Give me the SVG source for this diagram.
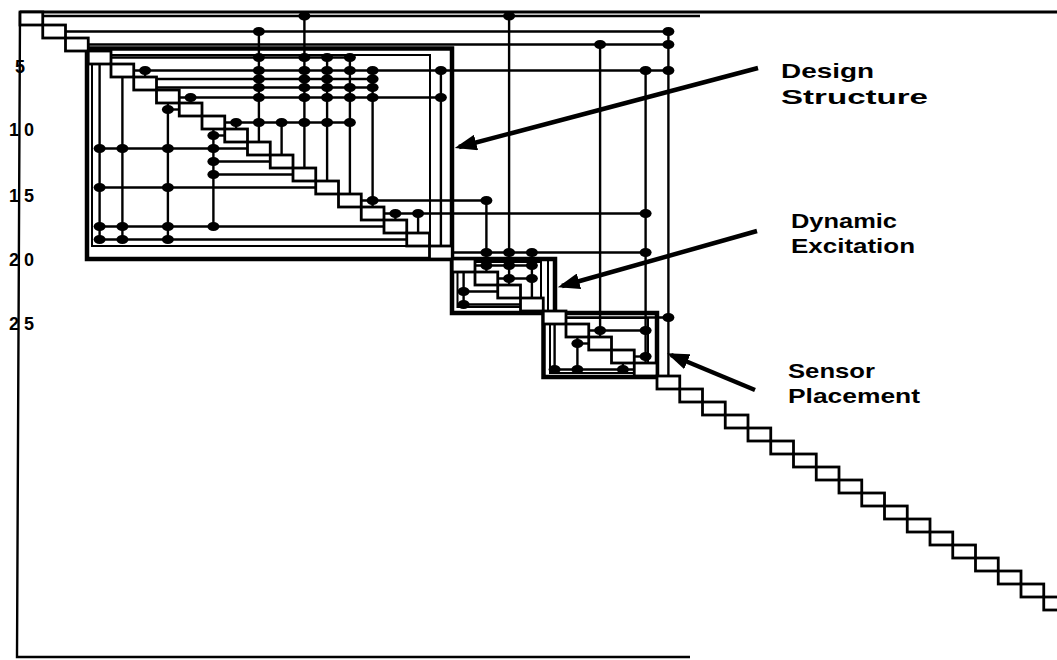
<svg xmlns="http://www.w3.org/2000/svg" xmlns:xlink="http://www.w3.org/1999/xlink" width="1057" height="660" viewBox="0 0 1057 660">
<defs>
<style>
.ln{stroke:#000;stroke-width:2.4;fill:none}
.bx{fill:#fff;stroke:#000;stroke-width:2.8}
.blk{fill:none;stroke:#000;stroke-width:4.5}
.inr{fill:none;stroke:#000;stroke-width:2}
.dot{fill:#000}
.lbl{font-family:"Liberation Sans",Arial,sans-serif;font-weight:bold;font-size:21px;fill:#000}
.ax{font-family:"Liberation Sans",Arial,sans-serif;font-weight:bold;font-size:18px;fill:#000}
.arr{stroke:#000;stroke-width:4.5;fill:none;marker-end:url(#ah)}
</style>
<ellipse id="d" class="dot" cx="0" cy="0" rx="6" ry="4.5"/>
<marker id="ah" viewBox="0 0 10 10" refX="8" refY="5" markerWidth="22" markerHeight="16" markerUnits="userSpaceOnUse" orient="auto" preserveAspectRatio="none"><path d="M0,0 L10,5 L0,10 Z" fill="#000"/></marker>
</defs>
<rect width="1057" height="660" fill="#fff"/>

<g id="axis">
<path class="ln" style="stroke-width:2.4" d="M20,12 L17,657 L690,657"/>
<path class="ln" style="stroke-width:3" d="M20,12 H1057"/>
<text class="ax" x="15" y="73">5</text>
<text class="ax" x="9" y="136" textLength="25" lengthAdjust="spacing">10</text>
<text class="ax" x="9" y="202" textLength="25" lengthAdjust="spacing">15</text>
<text class="ax" x="9" y="266" textLength="25" lengthAdjust="spacing">20</text>
<text class="ax" x="9" y="330" textLength="25" lengthAdjust="spacing">25</text>
</g>

<g id="block-design"><rect class="blk" x="87" y="48.5" width="365" height="210.5"/><rect class="inr" x="92" y="55" width="338" height="191"/></g>
<g id="block-excitation"><rect class="blk" x="452" y="259" width="103" height="54"/><rect class="inr" x="457.5" y="262" width="83.5" height="45"/><path class="inr" d="M548,259 V313"/></g>
<g id="block-sensor"><rect class="blk" x="543.5" y="313" width="113.5" height="64"/><rect class="inr" x="550" y="318" width="98" height="55"/></g>

<g id="connectors">
<g id="row-lines">
<path class="ln" d="M42.75,16 H700"/>
<path class="ln" d="M65.5,31.5 H668.4"/>
<path class="ln" d="M88.25,44.5 H668.4"/>
<path class="ln" d="M111,57.5 H349.9"/>
<path class="ln" d="M133.75,70.5 H668.4"/>
<path class="ln" d="M156.5,79 H372.6"/>
<path class="ln" d="M156.5,87.5 H372.6"/>
<path class="ln" d="M179.25,97.5 H440.9"/>
<path class="ln" d="M224.75,122.5 H349.9"/>
<path class="ln" d="M361.25,200.5 H486.4"/>
<path class="ln" d="M384,213.5 H645.6"/>
<path class="ln" d="M452.25,252.5 H645.6"/>
<path class="ln" d="M475,265.5 H531.9"/>
<path class="ln" d="M497.75,278.5 H531.9"/>
<path class="ln" d="M566,317.5 H668.4"/>
<path class="ln" d="M588.75,330.5 H645.6"/>
<path class="ln" d="M634.25,356.5 H645.6"/>
<path class="ln" d="M179.25,109.5 H167.9"/>
<path class="ln" d="M224.75,135.5 H213.4"/>
<path class="ln" d="M247.5,148.5 H99.6"/>
<path class="ln" d="M270.25,161.5 H213.4"/>
<path class="ln" d="M293,174.5 H213.4"/>
<path class="ln" d="M315.75,187.5 H99.6"/>
<path class="ln" d="M384,226.5 H99.6"/>
<path class="ln" d="M406.75,239.5 H99.6"/>
<path class="ln" d="M497.75,291.5 H463.6"/>
<path class="ln" d="M520.5,304.5 H463.6"/>
<path class="ln" d="M588.75,343.5 H577.4"/>
<path class="ln" d="M634.25,369.5 H554.6"/>
</g>
<g id="col-lines">
<path class="ln" d="M99.6,64 V239.5"/>
<path class="ln" d="M122.4,77 V239.5"/>
<path class="ln" d="M145.1,77 V70.5"/>
<path class="ln" d="M167.9,103 V239.5"/>
<path class="ln" d="M190.6,103 V97.5"/>
<path class="ln" d="M213.4,129 V226.5"/>
<path class="ln" d="M236.1,129 V122.5"/>
<path class="ln" d="M258.9,142 V31.5"/>
<path class="ln" d="M281.6,155 V122.5"/>
<path class="ln" d="M304.4,168 V16"/>
<path class="ln" d="M327.1,181 V57.5"/>
<path class="ln" d="M349.9,194 V57.5"/>
<path class="ln" d="M372.6,207 V70.5"/>
<path class="ln" d="M395.4,220 V213.5"/>
<path class="ln" d="M418.1,233 V213.5"/>
<path class="ln" d="M440.9,246 V70.5"/>
<path class="ln" d="M463.6,272 V304.5"/>
<path class="ln" d="M486.4,272 V200.5"/>
<path class="ln" d="M509.1,285 V16"/>
<path class="ln" d="M531.9,298 V252.5"/>
<path class="ln" d="M554.6,324 V369.5"/>
<path class="ln" d="M577.4,337 V369.5"/>
<path class="ln" d="M600.1,337 V44.5"/>
<path class="ln" d="M622.9,363 V369.5"/>
<path class="ln" d="M645.6,363 V70.5"/>
<path class="ln" d="M668.4,376 V31.5"/>
</g>
<g id="dots">
<use xlink:href="#d" x="304.4" y="16"/><use xlink:href="#d" x="509.1" y="16"/>
<use xlink:href="#d" x="258.9" y="31.5"/><use xlink:href="#d" x="668.4" y="31.5"/>
<use xlink:href="#d" x="600.1" y="44.5"/><use xlink:href="#d" x="668.4" y="44.5"/>
<use xlink:href="#d" x="258.9" y="57.5"/><use xlink:href="#d" x="304.4" y="57.5"/><use xlink:href="#d" x="327.1" y="57.5"/><use xlink:href="#d" x="349.9" y="57.5"/>
<use xlink:href="#d" x="145.1" y="70.5"/><use xlink:href="#d" x="258.9" y="70.5"/><use xlink:href="#d" x="304.4" y="70.5"/><use xlink:href="#d" x="327.1" y="70.5"/><use xlink:href="#d" x="349.9" y="70.5"/><use xlink:href="#d" x="372.6" y="70.5"/><use xlink:href="#d" x="440.9" y="70.5"/><use xlink:href="#d" x="645.6" y="70.5"/><use xlink:href="#d" x="668.4" y="70.5"/>
<use xlink:href="#d" x="258.9" y="79"/><use xlink:href="#d" x="304.4" y="79"/><use xlink:href="#d" x="327.1" y="79"/><use xlink:href="#d" x="372.6" y="79"/>
<use xlink:href="#d" x="258.9" y="87.5"/><use xlink:href="#d" x="304.4" y="87.5"/><use xlink:href="#d" x="327.1" y="87.5"/><use xlink:href="#d" x="349.9" y="87.5"/><use xlink:href="#d" x="372.6" y="87.5"/>
<use xlink:href="#d" x="190.6" y="97.5"/><use xlink:href="#d" x="258.9" y="97.5"/><use xlink:href="#d" x="304.4" y="97.5"/><use xlink:href="#d" x="327.1" y="97.5"/><use xlink:href="#d" x="349.9" y="97.5"/><use xlink:href="#d" x="372.6" y="97.5"/><use xlink:href="#d" x="440.9" y="97.5"/>
<use xlink:href="#d" x="167.9" y="109.5"/>
<use xlink:href="#d" x="236.1" y="122.5"/><use xlink:href="#d" x="258.9" y="122.5"/><use xlink:href="#d" x="281.6" y="122.5"/><use xlink:href="#d" x="304.4" y="122.5"/><use xlink:href="#d" x="327.1" y="122.5"/><use xlink:href="#d" x="349.9" y="122.5"/>
<use xlink:href="#d" x="213.4" y="135.5"/>
<use xlink:href="#d" x="99.6" y="148.5"/><use xlink:href="#d" x="122.4" y="148.5"/><use xlink:href="#d" x="167.9" y="148.5"/><use xlink:href="#d" x="213.4" y="148.5"/>
<use xlink:href="#d" x="213.4" y="161.5"/>
<use xlink:href="#d" x="213.4" y="174.5"/>
<use xlink:href="#d" x="99.6" y="187.5"/><use xlink:href="#d" x="167.9" y="187.5"/>
<use xlink:href="#d" x="372.6" y="200.5"/><use xlink:href="#d" x="486.4" y="200.5"/>
<use xlink:href="#d" x="395.4" y="213.5"/><use xlink:href="#d" x="418.1" y="213.5"/><use xlink:href="#d" x="645.6" y="213.5"/>
<use xlink:href="#d" x="99.6" y="226.5"/><use xlink:href="#d" x="122.4" y="226.5"/><use xlink:href="#d" x="167.9" y="226.5"/><use xlink:href="#d" x="213.4" y="226.5"/>
<use xlink:href="#d" x="99.6" y="239.5"/><use xlink:href="#d" x="122.4" y="239.5"/><use xlink:href="#d" x="167.9" y="239.5"/>
<use xlink:href="#d" x="486.4" y="252.5"/><use xlink:href="#d" x="509.1" y="252.5"/><use xlink:href="#d" x="531.9" y="252.5"/><use xlink:href="#d" x="645.6" y="252.5"/>
<use xlink:href="#d" x="486.4" y="265.5"/><use xlink:href="#d" x="509.1" y="265.5"/><use xlink:href="#d" x="531.9" y="265.5"/>
<use xlink:href="#d" x="509.1" y="278.5"/><use xlink:href="#d" x="531.9" y="278.5"/>
<use xlink:href="#d" x="463.6" y="291.5"/>
<use xlink:href="#d" x="463.6" y="304.5"/>
<use xlink:href="#d" x="668.4" y="317.5"/>
<use xlink:href="#d" x="600.1" y="330.5"/><use xlink:href="#d" x="645.6" y="330.5"/>
<use xlink:href="#d" x="577.4" y="343.5"/>
<use xlink:href="#d" x="645.6" y="356.5"/>
<use xlink:href="#d" x="554.6" y="369.5"/><use xlink:href="#d" x="577.4" y="369.5"/><use xlink:href="#d" x="622.9" y="369.5"/>
</g>
<g id="callouts">
<path class="arr" d="M758,68 L459,147"/>
<path class="arr" d="M757,231 L562,286"/>
<path class="arr" d="M755,390 L671,355"/>
</g>
</g>

<g id="m1"><rect class="bx" x="20" y="12" width="22.75" height="13"/></g>
<g id="m2"><rect class="bx" x="42.75" y="25" width="22.75" height="13"/></g>
<g id="m3"><rect class="bx" x="65.5" y="38" width="22.75" height="13"/></g>
<g id="m4"><rect class="bx" x="88.25" y="51" width="22.75" height="13"/></g>
<g id="m5"><rect class="bx" x="111" y="64" width="22.75" height="13"/></g>
<g id="m6"><rect class="bx" x="133.75" y="77" width="22.75" height="13"/></g>
<g id="m7"><rect class="bx" x="156.5" y="90" width="22.75" height="13"/></g>
<g id="m8"><rect class="bx" x="179.25" y="103" width="22.75" height="13"/></g>
<g id="m9"><rect class="bx" x="202" y="116" width="22.75" height="13"/></g>
<g id="m10"><rect class="bx" x="224.75" y="129" width="22.75" height="13"/></g>
<g id="m11"><rect class="bx" x="247.5" y="142" width="22.75" height="13"/></g>
<g id="m12"><rect class="bx" x="270.25" y="155" width="22.75" height="13"/></g>
<g id="m13"><rect class="bx" x="293" y="168" width="22.75" height="13"/></g>
<g id="m14"><rect class="bx" x="315.75" y="181" width="22.75" height="13"/></g>
<g id="m15"><rect class="bx" x="338.5" y="194" width="22.75" height="13"/></g>
<g id="m16"><rect class="bx" x="361.25" y="207" width="22.75" height="13"/></g>
<g id="m17"><rect class="bx" x="384" y="220" width="22.75" height="13"/></g>
<g id="m18"><rect class="bx" x="406.75" y="233" width="22.75" height="13"/></g>
<g id="m19"><rect class="bx" x="429.5" y="246" width="22.75" height="13"/></g>
<g id="m20"><rect class="bx" x="452.25" y="259" width="22.75" height="13"/></g>
<g id="m21"><rect class="bx" x="475" y="272" width="22.75" height="13"/></g>
<g id="m22"><rect class="bx" x="497.75" y="285" width="22.75" height="13"/></g>
<g id="m23"><rect class="bx" x="520.5" y="298" width="22.75" height="13"/></g>
<g id="m24"><rect class="bx" x="543.25" y="311" width="22.75" height="13"/></g>
<g id="m25"><rect class="bx" x="566" y="324" width="22.75" height="13"/></g>
<g id="m26"><rect class="bx" x="588.75" y="337" width="22.75" height="13"/></g>
<g id="m27"><rect class="bx" x="611.5" y="350" width="22.75" height="13"/></g>
<g id="m28"><rect class="bx" x="634.25" y="363" width="22.75" height="13"/></g>
<g id="m29"><rect class="bx" x="657" y="376" width="22.75" height="13"/></g>
<g id="m30"><rect class="bx" x="679.75" y="389" width="22.75" height="13"/></g>
<g id="m31"><rect class="bx" x="702.5" y="402" width="22.75" height="13"/></g>
<g id="m32"><rect class="bx" x="725.25" y="415" width="22.75" height="13"/></g>
<g id="m33"><rect class="bx" x="748" y="428" width="22.75" height="13"/></g>
<g id="m34"><rect class="bx" x="770.75" y="441" width="22.75" height="13"/></g>
<g id="m35"><rect class="bx" x="793.5" y="454" width="22.75" height="13"/></g>
<g id="m36"><rect class="bx" x="816.25" y="467" width="22.75" height="13"/></g>
<g id="m37"><rect class="bx" x="839" y="480" width="22.75" height="13"/></g>
<g id="m38"><rect class="bx" x="861.75" y="493" width="22.75" height="13"/></g>
<g id="m39"><rect class="bx" x="884.5" y="506" width="22.75" height="13"/></g>
<g id="m40"><rect class="bx" x="907.25" y="519" width="22.75" height="13"/></g>
<g id="m41"><rect class="bx" x="930" y="532" width="22.75" height="13"/></g>
<g id="m42"><rect class="bx" x="952.75" y="545" width="22.75" height="13"/></g>
<g id="m43"><rect class="bx" x="975.5" y="558" width="22.75" height="13"/></g>
<g id="m44"><rect class="bx" x="998.25" y="571" width="22.75" height="13"/></g>
<g id="m45"><rect class="bx" x="1021" y="584" width="22.75" height="13"/></g>
<g id="m46"><rect class="bx" x="1043.75" y="597" width="22.75" height="13"/></g>

<g id="label-design"><text class="lbl" x="781" y="78" textLength="93" lengthAdjust="spacingAndGlyphs">Design</text><text class="lbl" x="781" y="104" textLength="147" lengthAdjust="spacingAndGlyphs">Structure</text></g>
<g id="label-excitation"><text class="lbl" x="791" y="228" textLength="106" lengthAdjust="spacingAndGlyphs">Dynamic</text><text class="lbl" x="791" y="253" textLength="124" lengthAdjust="spacingAndGlyphs">Excitation</text></g>
<g id="label-sensor"><text class="lbl" x="788" y="378" textLength="87" lengthAdjust="spacingAndGlyphs">Sensor</text><text class="lbl" x="788" y="403" textLength="132" lengthAdjust="spacingAndGlyphs">Placement</text></g>
</svg>
